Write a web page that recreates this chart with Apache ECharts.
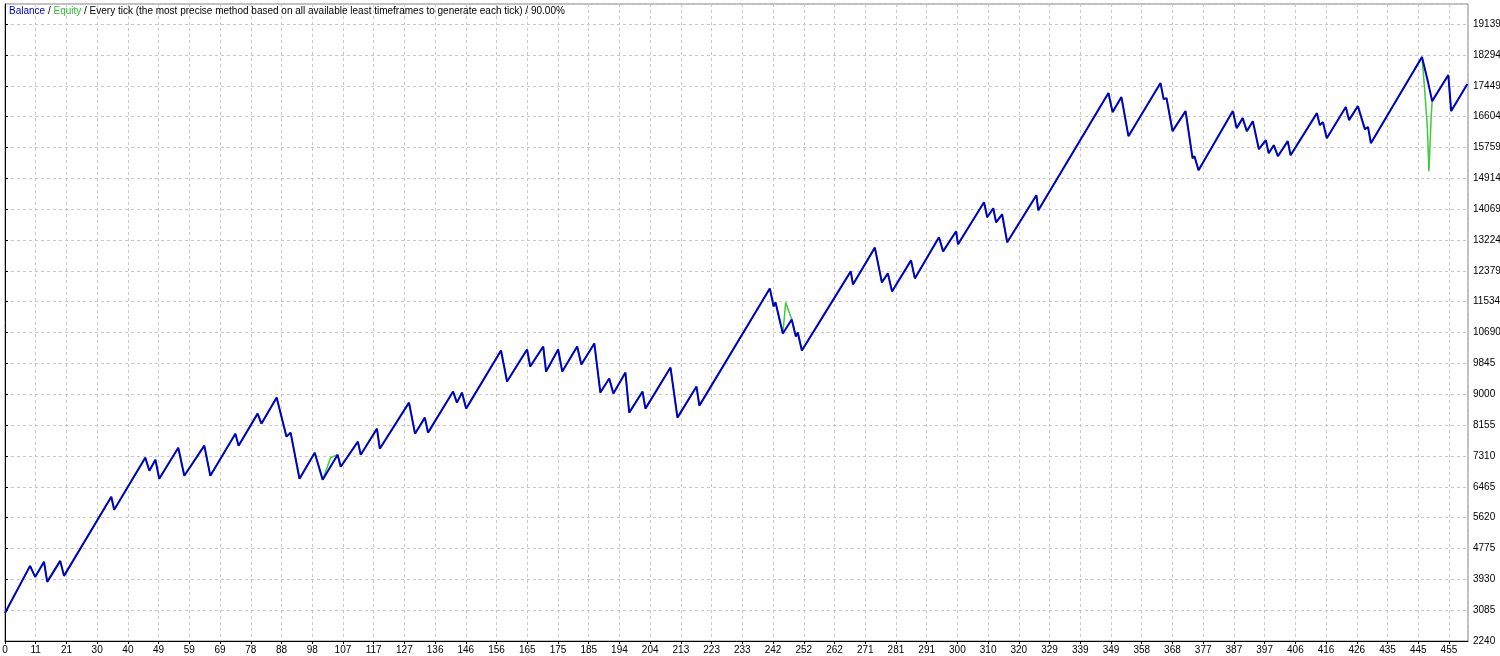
<!DOCTYPE html>
<html><head><meta charset="utf-8">
<script src="https://cdn.jsdelivr.net/npm/echarts@6/dist/echarts.min.js"></script>
<style>html,body{margin:0;padding:0;background:#fff}#c{width:1500px;height:656px}</style>
</head><body><div id="c"></div>
<script>
const xLabels = [0,11,21,30,40,49,59,69,78,88,98,107,117,127,136,146,156,165,175,185,194,204,213,223,233,242,252,262,271,281,291,300,310,320,329,339,349,358,368,377,387,397,406,416,426,435,445,455];
const yTicks = [2240,3085,3930,4775,5620,6465,7310,8155,9000,9845,10690,11534,12379,13224,14069,14914,15759,16604,17449,18294,19139];
const balanceT = [0,7.9,9.5,12.3,13.3,17.4,18.6,33.5,34.4,44.2,45.5,47.4,48.6,54.6,56.5,62.8,64.7,72.6,73.6,79.6,80.8,85.6,88.7,90.0,92.8,97.6,100.1,104.8,105.8,111.2,112.1,117.2,118.1,127.3,129.2,132.3,133.3,141.2,142.4,144.0,145.3,156.3,158.2,164.5,165.5,169.6,170.5,174.3,175.6,180.3,181.6,185.7,187.6,190.4,191.7,195.5,196.7,200.9,201.8,209.7,211.9,217.9,218.8,241.0,242.2,242.8,245.1,247.9,249.2,249.8,251.1,266.5,267.2,274.1,276.3,278.2,279.5,285.5,286.7,294.3,295.6,299.7,300.3,308.5,309.5,311.4,312.3,314.2,315.8,325.0,325.6,347.7,349.0,351.8,354.0,364.1,365.1,366.0,367.9,372.0,374.2,374.8,376.1,386.9,388.1,390.0,391.3,393.2,395.1,397.3,398.2,399.8,401.1,404.2,405.1,413.4,414.3,415.3,416.5,422.5,423.5,426.3,428.5,429.5,430.4,446.5,448.4,449.7,454.8,455.7,460.8];
const balanceV = [3008,4298,3996,4408,3859,4435,4024,6191,5835,7262,6905,7207,6685,7536,6768,7591,6768,7920,7591,8469,8194,8908,7838,7948,6685,7399,6658,7344,7015,7701,7344,8057,7508,8771,7920,8359,7948,9073,8771,9045,8606,10198,9347,10225,9759,10307,9621,10225,9621,10307,9813,10390,9045,9429,9018,9594,8496,9073,8606,9731,8359,9210,8688,11899,11405,11515,10664,11048,10582,10692,10198,12365,12009,13016,12064,12310,11817,12667,12173,13298,12914,13463,13106,14259,13847,14094,13710,13929,13161,14451,14039,17250,16728,17140,16070,17524,17085,17112,16207,16756,15466,15521,15137,16756,16289,16564,16207,16481,15713,15960,15603,15823,15521,15933,15548,16701,16372,16454,16015,16866,16509,16893,16262,16317,15878,18238,17552,17030,17744,16756,17497];
// equity deviations from balance (trade index, value)
const equityExtraT = [102.6,246.0,447.3,448.2,448.7,449.4];
const equityExtraV = [7262,11515,17400,16300,15109,16600];

const balance = balanceT.map((t,i)=>[t,balanceV[i]]);
const equityData = balance.concat(equityExtraT.map((t,i)=>[t,equityExtraV[i]]))
  .sort((a,b)=>a[0]-b[0]).filter(p=>p[0]!==448.4);

const FONT = 'Liberation Sans';
const step = 455/47;
const chart = echarts.init(document.getElementById('c'));
chart.setOption({
  animation:false,
  backgroundColor:'#fff',
  grid:{left:5,right:32,top:4,bottom:15,outerBoundsMode:'none',containLabel:false,show:true,borderColor:'#808080',borderWidth:1,backgroundColor:'#fff'},
  xAxis:{type:'value',min:0,max:461,interval:step,
    axisLine:{show:true,onZero:false,lineStyle:{color:'#000',width:1}},
    axisTick:{show:true,length:3,lineStyle:{color:'#000'}},
    axisLabel:{showMaxLabel:false,fontSize:10,fontFamily:FONT,color:'#000',margin:4,overflow:'none',hideOverlap:false,
      formatter:v=>{const i=Math.round(v/step);return xLabels[i]!==undefined?String(xLabels[i]):'';}},
    splitLine:{show:true,lineStyle:{color:'#c8c8c8',type:[3,3]}}},
  yAxis:{type:'value',position:'right',min:2240,max:19690,interval:845,
    axisLine:{show:true,lineStyle:{color:'#000',width:1}},
    axisTick:{show:true,length:3,lineStyle:{color:'#000'}},
    axisLabel:{showMaxLabel:false,fontSize:10,fontFamily:FONT,color:'#000',margin:5,overflow:'none',width:40,
      formatter:v=>{const t=yTicks.find(y=>Math.abs(y-v)<2);return t!==undefined?String(t):String(Math.round(v));}},
    splitLine:{show:true,lineStyle:{color:'#c8c8c8',type:[3,3]}}},
  graphic:[{type:'text',left:9,top:6,z:10,style:{
    text:'{b|Balance}{k| / }{g|Equity}{k| / Every tick (the most precise method based on all available least timeframes to generate each tick) / 90.00%}',
    rich:{b:{fill:'#0000c8',fontSize:10,fontFamily:FONT},g:{fill:'#30c030',fontSize:10,fontFamily:FONT},k:{fill:'#000',fontSize:10,fontFamily:FONT}}}}],
  series:[
    {name:'Equity',type:'line',data:equityData,showSymbol:false,lineStyle:{color:'#3ccc3c',width:1.5},z:2},
    {name:'Balance',type:'line',data:balance,showSymbol:false,lineStyle:{color:'#0000c8',width:2},z:3}
  ]
});
</script></body></html>
